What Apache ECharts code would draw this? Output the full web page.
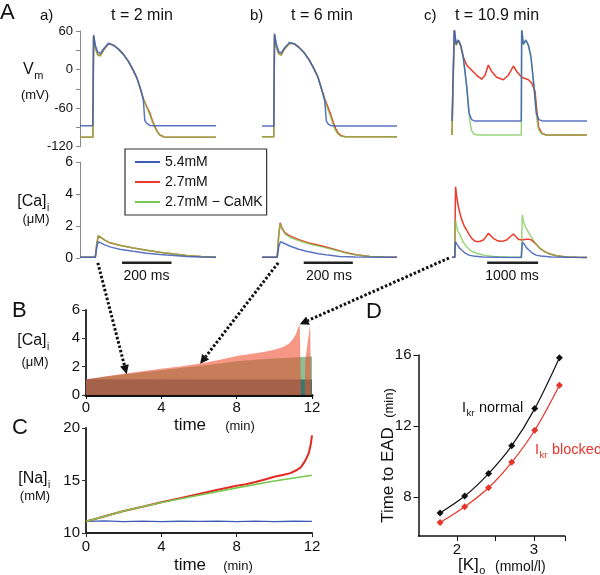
<!DOCTYPE html>
<html><head><meta charset="utf-8">
<script src="https://cdn.jsdelivr.net/npm/echarts@6/dist/echarts.min.js"></script>
<style>html,body{margin:0;padding:0;background:#fff}#c{width:600px;height:575px}</style>
</head><body><div id="c"></div>
<script>
// ================= DATA =================
const seriesNames = ['5.4mM', '2.7mM', '2.7mM \u2212 CaMK'];

// Panel A a) t = 2 min : membrane potential [ms, mV]
const vmA_blue  = [[0,-87.5],[52,-87.5],[55,54],[62,38],[72,27],[82,25],[95,32],[115,41],[135,38],[155,32],[175,24],[195,13],[215,-1],[230,-13],[242,-27],[250,-38],[256,-47],[262,-79],[270,-84],[282,-87],[300,-87.5],[550,-87.5]];
const vmA_red   = [[0,-105.5],[52,-105.5],[55,52],[62,34],[72,23],[82,22],[95,30],[115,40],[135,38],[155,32],[175,24],[195,13],[215,-1],[230,-13],[242,-27],[256,-45],[270,-58],[283,-68],[293,-80],[303,-89],[313,-97],[323,-102],[340,-105],[360,-105.5],[550,-105.5]];
const vmA_green = [[0,-105.5],[52,-105.5],[55,52],[62,33],[72,22],[82,21],[95,30],[115,40],[135,38],[155,32],[175,24],[195,13],[215,-1],[230,-13],[242,-27],[256,-45],[270,-59],[282,-70],[292,-81],[302,-90],[312,-97],[322,-102],[340,-105],[360,-105.5],[550,-105.5]];
// Panel A b) t = 6 min
const vmB_blue  = [[0,-88],[48,-88],[51,56],[58,40],[68,28],[78,26],[92,34],[112,42],[132,40],[152,34],[172,26],[192,15],[212,1],[228,-12],[240,-27],[250,-40],[256,-50],[262,-80],[270,-85],[282,-87.5],[300,-88],[550,-88]];
const vmB_red   = [[0,-104.7],[48,-104.7],[51,54],[58,36],[68,25],[78,23],[92,32],[112,41],[132,40],[152,34],[172,26],[192,15],[212,1],[228,-12],[240,-27],[254,-44],[268,-58],[280,-70],[290,-82],[300,-92],[310,-99],[322,-103],[340,-104.5],[550,-104.7]];
const vmB_green = [[0,-104.7],[48,-104.7],[51,54],[58,35],[68,24],[78,22],[92,32],[112,41],[132,40],[152,34],[172,26],[192,15],[212,1],[228,-12],[240,-27],[254,-45],[266,-60],[278,-72],[288,-84],[298,-94],[308,-100],[320,-103.5],[340,-104.6],[550,-104.7]];
// Panel A c) t = 10.9 min
const vmC_blue  = [[0,-80],[38,-80],[45,64],[80,40],[125,46],[170,38],[220,20],[290,-27],[335,-68],[385,-78],[440,-80],[1360,-80],[1368,64],[1400,40],[1450,46],[1500,38],[1550,20],[1610,-27],[1655,-68],[1705,-78],[1770,-80],[2650,-80]];
const vmC_red   = [[0,-102],[38,-102],[45,62],[80,38],[125,45],[170,37],[220,20],[288,7],[387,-1],[485,-9],[583,-15],[648,-9],[713,7],[779,-3],[877,-12],[1008,-16],[1106,-9],[1204,5.5],[1270,-3],[1368,-12],[1500,-16],[1565,-21],[1630,-34],[1664,-63],[1697,-89],[1760,-99],[1850,-102],[2650,-102]];
const vmC_green = [[0,-102],[38,-102],[45,62],[80,38],[125,45],[170,37],[220,19],[290,-27],[320,-55],[350,-80],[380,-94],[420,-100],[500,-102],[1360,-102],[1368,62],[1400,38],[1450,45],[1500,37],[1550,19],[1610,-27],[1640,-55],[1670,-80],[1700,-94],[1760,-100],[1850,-102],[2650,-102]];

// Panel A calcium transients [ms, uM]
const caA_blue  = [[0,0.05],[62,0.05],[68,0.7],[74,1.02],[82,0.95],[100,0.82],[125,0.68],[160,0.55],[215,0.42],[270,0.3],[323,0.22],[380,0.15],[431,0.1],[490,0.07],[550,0.05]];
const caA_red   = [[0,0.05],[62,0.05],[68,0.9],[74,1.38],[82,1.3],[100,1.12],[121,0.95],[160,0.8],[215,0.62],[270,0.48],[323,0.36],[380,0.25],[431,0.16],[490,0.09],[550,0.05]];
const caA_green = [[0,0.05],[62,0.05],[68,0.95],[74,1.42],[82,1.32],[100,1.13],[121,0.96],[160,0.8],[215,0.62],[270,0.48],[323,0.36],[380,0.25],[431,0.16],[490,0.09],[550,0.05]];
const caB_blue  = [[0,0.05],[62,0.05],[68,0.7],[75,1.02],[85,0.95],[113,0.75],[150,0.55],[181,0.42],[230,0.27],[270,0.18],[315,0.1],[380,0.06],[550,0.05]];
const caB_red   = [[0,0.05],[62,0.05],[68,1.4],[74,2.2],[82,1.85],[95,1.55],[113,1.38],[150,1.15],[200,0.9],[249,0.74],[300,0.52],[340,0.35],[384,0.2],[440,0.1],[500,0.06],[550,0.05]];
const caB_green = [[0,0.05],[62,0.05],[68,1.4],[74,2.15],[82,1.8],[95,1.48],[113,1.3],[150,1.08],[200,0.84],[249,0.68],[300,0.48],[340,0.32],[384,0.18],[440,0.09],[500,0.06],[550,0.05]];
const caC_blue  = [[0,0.05],[55,0.05],[62,0.6],[68,1.02],[100,0.85],[140,0.65],[190,0.5],[260,0.3],[330,0.18],[419,0.12],[600,0.06],[900,0.04],[1360,0.03],[1372,0.6],[1385,1.0],[1420,0.85],[1460,0.65],[1510,0.5],[1580,0.3],[1650,0.18],[1740,0.12],[1950,0.06],[2300,0.04],[2650,0.03]];
const caC_red   = [[0,0.05],[55,0.05],[62,2.5],[70,4.46],[90,3.9],[125,3.2],[160,2.75],[190,2.4],[240,2.0],[288,1.75],[340,1.45],[387,1.23],[440,1.08],[485,1.02],[550,1.05],[615,1.12],[660,1.3],[713,1.54],[760,1.4],[811,1.23],[880,1.1],[942,1.05],[1008,1.06],[1073,1.12],[1130,1.3],[1204,1.5],[1250,1.35],[1302,1.17],[1368,1.12],[1430,1.15],[1498,1.18],[1564,1.12],[1640,0.9],[1727,0.6],[1820,0.4],[1924,0.25],[2050,0.14],[2251,0.06],[2450,0.04],[2650,0.03]];
const caC_green = [[0,0.05],[55,0.05],[62,1.5],[68,2.4],[90,1.95],[120,1.65],[157,1.44],[220,1.0],[288,0.7],[380,0.42],[485,0.3],[650,0.16],[811,0.1],[1100,0.06],[1365,0.05],[1372,1.6],[1380,2.7],[1400,2.3],[1440,1.95],[1498,1.64],[1550,1.35],[1596,1.12],[1660,0.85],[1727,0.6],[1820,0.4],[1924,0.25],[2050,0.14],[2251,0.06],[2450,0.04],[2650,0.03]];

// scale bars [ms, uM]
const scaleBar200  = [[170,-0.3],[370,-0.3]];
const scaleBar1000 = [[690,-0.3],[1690,-0.3]];

// Panel B: peak [Ca]i vs time [min, uM]
const bBlue  = [[0,1.12],[6,1.1],[12,1.1]];
const bGreen = [[0,1.1],[1,1.28],[2,1.45],[3,1.6],[4,1.75],[5,1.9],[6,2.05],[7,2.2],[8,2.38],[9,2.48],[10,2.57],[11,2.65],[12,2.72]];
const bRed   = [[0,1.12],[1,1.3],[2,1.5],[3,1.68],[4,1.85],[5,2.02],[6,2.2],[7,2.45],[8,2.75],[9,2.95],[9.5,3.05],[10,3.2],[10.5,3.4],[10.8,3.65],[11,3.95],[11.15,4.3],[11.28,4.8],[11.35,4.95],[11.4,4.95],[11.42,0],[11.62,0],[11.64,2.4],[11.9,5.0],[11.93,2.4],[11.95,0],[12,0]];

// Panel C: [Na]i vs time [min, mM]
const cBlue  = [[0,11.1],[1,11.15],[2,11.08],[3,11.13],[4,11.08],[5,11.12],[6,11.1],[7,11.14],[8,11.09],[9,11.13],[10,11.08],[11,11.12],[12,11.1]];
const cGreen = [[0,11.1],[1,11.6],[2,12.1],[3,12.5],[4,12.9],[6,13.6],[8,14.3],[10,14.95],[12,15.5]];
const cRed   = [[0,11.1],[1,11.6],[2,12.1],[3,12.5],[4,12.92],[5,13.32],[6,13.72],[7,14.12],[8,14.5],[8.5,14.65],[9,14.85],[9.5,15.1],[10,15.35],[10.5,15.55],[10.85,15.7],[11.2,16.0],[11.4,16.25],[11.56,16.65],[11.7,17.1],[11.83,17.6],[11.93,18.4],[12,19.3]];

// Panel D: time to EAD vs [K]o
const dK       = [1.78, 2.1, 2.41, 2.71, 3.01, 3.33];
const dNormal  = [7.1, 8.05, 9.32, 10.88, 12.98, 15.85];
const dBlocked = [6.56, 7.45, 8.52, 9.95, 11.76, 14.3];

// tick labels
const vmTicks = [-120, -60, 0, 60];
const dYTicks = [8, 12, 16];
const dXTicks = [2, 2.5, 3, 3.4];
const dXLabels = [2, 3];

// ================= CHART =================
const FF = '"Liberation Sans", Arial, Helvetica, sans-serif';
const C_BLUE = '#3d5cb8', C_RED = '#ee3a2a', C_GREEN = '#78c850';
const chart = echarts.init(document.getElementById('c'), null, {renderer: 'canvas'});

const grids = [
  {left: 80,  top: 31, width: 136, height: 115.6},
  {left: 262, top: 31, width: 135, height: 115.6},
  {left: 452, top: 31, width: 135, height: 115.6},
  {left: 80,  top: 162, width: 136, height: 96},
  {left: 262, top: 162, width: 135, height: 96},
  {left: 452, top: 162, width: 135, height: 96},
  {left: 86,  top: 310, width: 226, height: 85},
  {left: 86,  top: 428, width: 226, height: 105},
  {left: 418.5, top: 355, width: 146.3, height: 181}
];
const hiddenX = (gi, max) => ({type: 'value', gridIndex: gi, min: 0, max: max, show: false});
const lbl = {color: '#111', fontFamily: FF, fontSize: 13, margin: 7};
const xAxes = [
  hiddenX(0, 550), hiddenX(1, 550), hiddenX(2, 2650),
  hiddenX(3, 550), hiddenX(4, 550), hiddenX(5, 2650),
  {type: 'value', gridIndex: 6, min: 0, max: 12, interval: 4, splitLine: {show: false},
   axisLine: {lineStyle: {color: '#111', width: 3}}, axisTick: {length: 4, lineStyle: {color: '#111'}},
   axisLabel: Object.assign({}, lbl, {fontSize: 15, margin: 5})},
  {type: 'value', gridIndex: 7, min: 0, max: 12, interval: 4, splitLine: {show: false},
   axisLine: {lineStyle: {color: '#222', width: 2}}, axisTick: {length: 4, lineStyle: {color: '#222'}},
   axisLabel: Object.assign({}, lbl, {fontSize: 15, margin: 6})},
  {type: 'value', gridIndex: 8, min: 1.5, max: 3.4, splitLine: {show: false},
   axisLine: {lineStyle: {color: '#111', width: 1.5}},
   axisTick: {customValues: dXTicks, length: 5, lineStyle: {color: '#111'}},
   axisLabel: Object.assign({}, lbl, {fontSize: 15, margin: 6, customValues: dXLabels})}
];
const vmAxis = (gi, show) => ({type: 'value', gridIndex: gi, min: -120, max: 60, interval: 30, show: show,
  splitLine: {show: false}, axisLine: {show: true, lineStyle: {color: '#888', width: 1}},
  axisTick: {show: true, length: 4, lineStyle: {color: '#888'}},
  axisLabel: Object.assign({}, lbl, {formatter: v => (vmTicks.indexOf(v) >= 0 ? String(v) : '')})});
const caAxis = (gi, show) => ({type: 'value', gridIndex: gi, min: 0, max: 6, interval: 2, show: show,
  splitLine: {show: false}, axisLine: {show: true, lineStyle: {color: '#888', width: 1}},
  axisTick: {show: true, length: 4, lineStyle: {color: '#888'}}, axisLabel: Object.assign({}, lbl, {fontSize: 14})});
const yAxes = [
  vmAxis(0, true), vmAxis(1, false), vmAxis(2, false),
  caAxis(3, true), caAxis(4, false), caAxis(5, false),
  {type: 'value', gridIndex: 6, min: 0, max: 6, interval: 2, splitLine: {show: false},
   axisLine: {show: true, lineStyle: {color: '#333', width: 2}}, axisTick: {show: true, length: 4, lineStyle: {color: '#333'}},
   axisLabel: Object.assign({}, lbl, {fontSize: 15, margin: 6})},
  {type: 'value', gridIndex: 7, min: 10, max: 20, interval: 5, splitLine: {show: false},
   axisLine: {show: true, lineStyle: {color: '#333', width: 2}}, axisTick: {show: true, length: 4, lineStyle: {color: '#333'}},
   axisLabel: Object.assign({}, lbl, {fontSize: 15, margin: 6})},
  {type: 'value', gridIndex: 8, min: 5.8, max: 16, splitLine: {show: false},
   axisLine: {show: true, lineStyle: {color: '#111', width: 1.5}},
   axisTick: {show: true, customValues: dYTicks, length: 5, lineStyle: {color: '#111'}},
   axisLabel: Object.assign({}, lbl, {fontSize: 15, margin: 7, customValues: dYTicks})}
];

function trace(name, gi, data, color, width, opacity, z) {
  return {type: 'line', name: name, xAxisIndex: gi, yAxisIndex: gi, data: data, symbol: 'none',
    lineStyle: {color: color, width: width, opacity: opacity}, itemStyle: {color: color}, z: z, silent: true};
}
const series = [];
[[0, vmA_red, vmA_green, vmA_blue], [1, vmB_red, vmB_green, vmB_blue], [2, vmC_red, vmC_green, vmC_blue],
 [3, caA_red, caA_green, caA_blue], [4, caB_red, caB_green, caB_blue], [5, caC_red, caC_green, caC_blue]]
 .forEach(([gi, r, g, b]) => {
   series.push(trace(seriesNames[1], gi, r, C_RED, 1.5, 1, 2));
   series.push(trace(seriesNames[2], gi, g, C_GREEN, 1.5, 0.75, 3));
   series.push(trace(seriesNames[0], gi, b, C_BLUE, 1.5, 0.85, 4));
 });
[[3, scaleBar200], [4, scaleBar200], [5, scaleBar1000]].forEach(([gi, d]) => {
  series.push({type: 'line', xAxisIndex: gi, yAxisIndex: gi, data: d, symbol: 'none', clip: false, silent: true,
    lineStyle: {color: '#222', width: 2.5}});
});
function area(gi, data, color, op, z) {
  return {type: 'line', xAxisIndex: gi, yAxisIndex: gi, data: data, symbol: 'none', silent: true,
    lineStyle: {width: 0}, areaStyle: {color: color, opacity: op}, z: z};
}
series.push(area(6, bBlue, '#14408c', 0.9, 2));
series.push(area(6, bGreen, '#3c9650', 0.6, 3));
series.push(area(6, bRed, '#f05032', 0.6, 4));
series.push(trace('', 7, cBlue, C_BLUE, 1.3, 1, 2));
series.push(trace('', 7, cRed, '#e32a22', 2, 1, 3));
series.push(trace('', 7, cGreen, C_GREEN, 1.6, 1, 4));
function dSeries(vals, color) {
  return {type: 'line', xAxisIndex: 8, yAxisIndex: 8, data: dK.map((k, i) => [k, vals[i]]), smooth: 0.35,
    symbol: 'diamond', symbolSize: 7, showSymbol: true, silent: true,
    lineStyle: {color: color, width: 1.2}, itemStyle: {color: color}};
}
series.push(dSeries(dNormal, '#111'));
series.push(dSeries(dBlocked, '#e8332a'));

chart.setOption({
  animation: false,
  backgroundColor: '#fff',
  textStyle: {fontFamily: FF},
  grid: grids,
  xAxis: xAxes,
  yAxis: yAxes,
  legend: {data: seriesNames, left: 125, top: 149, orient: 'vertical', icon: 'rect', itemWidth: 25, itemHeight: 2, itemGap: 4,
    padding: [5, 4, 5, 10], borderColor: '#333', borderWidth: 1.2, backgroundColor: '#fff',
    textStyle: {fontSize: 14, color: '#111', fontFamily: FF, lineHeight: 16}, selectedMode: false},
  series: series
});

// ================= TEXT & ARROWS =================
const mctx = document.createElement('canvas').getContext('2d');
function tw(s, size) { mctx.font = size + 'px ' + FF; return mctx.measureText(s).width; }
function txt(s, x, y, size, o) {
  o = o || {};
  const al = o.align || 'left';
  const el = {type: 'text', silent: true, z: 100,
    style: {text: s, x: 0, y: 0, font: (o.weight || 'normal') + ' ' + size + 'px ' + FF, fill: o.color || '#111',
      align: al, verticalAlign: 'middle', textAlign: al, textVerticalAlign: 'middle'}, x: x, y: y};
  if (o.rotation) el.rotation = o.rotation;
  return el;
}
function subT(x, y, main, sub, rest, size, subSize, color, align) {
  const w1 = tw(main, size), w2 = tw(sub, subSize), w3 = rest ? tw(rest, size) : 0;
  const tot = w1 + w2 + w3;
  const x0 = align === 'center' ? x - tot / 2 : x;
  const out = [txt(main, x0, y, size, {color}), txt(sub, x0 + w1 + 0.5, y + size * 0.38, subSize, {color})];
  if (rest) out.push(txt(rest, x0 + w1 + w2 + 1, y, size, {color}));
  return out;
}
let g = [];
g.push(txt('A', 0, 13, 22));
g.push(txt('a)', 40, 16, 15));
g.push(txt('t = 2 min', 142, 16, 16, {align: 'center'}));
g.push(txt('b)', 250, 16, 15));
g.push(txt('t = 6 min', 322, 16, 16, {align: 'center'}));
g.push(txt('c)', 424, 16, 15));
g.push(txt('t = 10.9 min', 497, 16, 16, {align: 'center'}));
g = g.concat(subT(33, 70, 'V', 'm', '', 16, 11, '#111', 'center'));
g.push(txt('(mV)', 35, 95, 13, {align: 'center'}));
g = g.concat(subT(33, 202, '[Ca]', 'i', '', 16, 10, '#111', 'center'));
g.push(txt('(\u03bcM)', 36, 219, 13, {align: 'center'}));
g.push(txt('200 ms', 146.5, 276, 14, {align: 'center'}));
g.push(txt('200 ms', 329, 276, 14, {align: 'center'}));
g.push(txt('1000 ms', 512, 276, 14, {align: 'center'}));
g.push(txt('B', 12, 311, 22));
g = g.concat(subT(33, 341, '[Ca]', 'i', '', 16, 10, '#111', 'center'));
g.push(txt('(\u03bcM)', 35, 362, 13, {align: 'center'}));
g.push(txt('time', 190, 425, 17, {align: 'center'}));
g.push(txt('(min)', 240, 426, 13, {align: 'center'}));
g.push(txt('C', 12, 428, 22));
g = g.concat(subT(34, 479, '[Na]', 'i', '', 16, 10, '#111', 'center'));
g.push(txt('(mM)', 35, 496, 13, {align: 'center'}));
g.push(txt('time', 190, 565, 17, {align: 'center'}));
g.push(txt('(min)', 238, 566, 13, {align: 'center'}));
g.push(txt('D', 366, 312, 22));
g.push(txt('Time to EAD', 388, 475, 17, {align: 'center', rotation: Math.PI / 2}));
g.push(txt('(min)', 389, 403, 13, {align: 'center', rotation: Math.PI / 2}));
g = g.concat(subT(458, 565, '[K]', 'o', '', 17, 11, '#111', 'left'));
g.push(txt('(mmol/l)', 495, 567, 14));
g = g.concat(subT(462, 408, 'I', 'kr', ' normal', 14.5, 9.5, '#111', 'left'));
g = g.concat(subT(535, 450, 'I', 'kr', ' blocked', 14.5, 9.5, '#e8332a', 'left'));

// dotted arrows from the A calcium traces to panel B (data coordinates)
const arrowLinks = [
  {fromGrid: 3, from: [72, -0.3], toGrid: 6, to: [2.16, 1.47]},
  {fromGrid: 4, from: [66, -0.3], toGrid: 6, to: [6.06, 2.2]},
  {fromGrid: 5, from: [-60, 0.0], toGrid: 6, to: [11.35, 5.0]}
];
arrowLinks.forEach(a => {
  const p1 = chart.convertToPixel({gridIndex: a.fromGrid}, a.from);
  const p2 = chart.convertToPixel({gridIndex: a.toGrid}, a.to);
  const dx = p2[0] - p1[0], dy = p2[1] - p1[1], L = Math.sqrt(dx * dx + dy * dy);
  const ux = dx / L, uy = dy / L, hl = 9, hw = 4.5;
  const bx = p2[0] - ux * hl, by = p2[1] - uy * hl;
  g.push({type: 'line', silent: true, z: 90, shape: {x1: p1[0], y1: p1[1], x2: bx, y2: by},
    style: {stroke: '#111', lineWidth: 3, lineDash: [2.5, 2]}});
  g.push({type: 'polygon', silent: true, z: 90,
    shape: {points: [[p2[0], p2[1]], [bx - uy * hw, by + ux * hw], [bx + uy * hw, by - ux * hw]]},
    style: {fill: '#111'}});
});
chart.setOption({graphic: {elements: g}});
</script>
</body></html>
